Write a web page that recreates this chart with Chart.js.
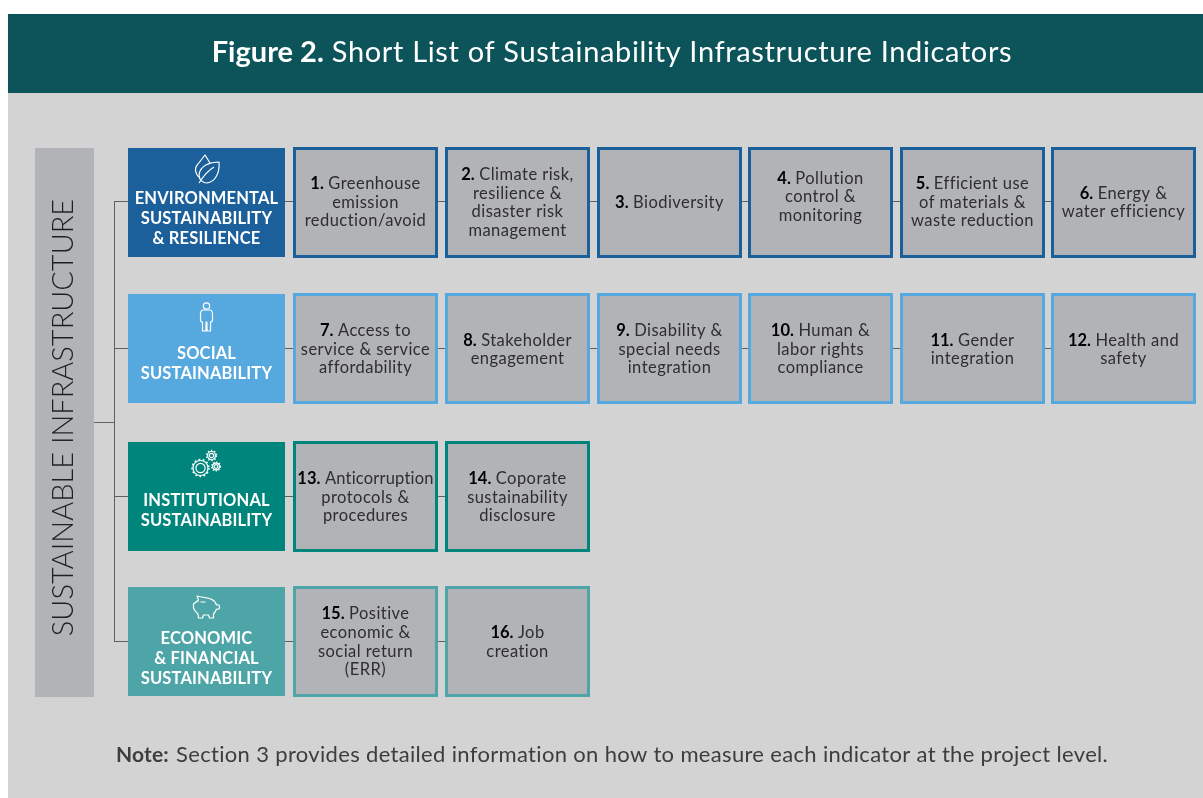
<!DOCTYPE html>
<html><head><meta charset="utf-8">
<style>html,body{margin:0;padding:0;background:#fff;overflow:hidden}canvas{display:block}</style>
<script src="https://cdn.jsdelivr.net/npm/chart.js@4"></script>
</head><body><canvas id="c" width="1203" height="798"></canvas>
<script>
/* ---- content ---- */
const titleBold = 'Figure 2.';
const titleRest = 'Short List of Sustainability Infrastructure Indicators';
const rootLabel = 'SUSTAINABLE INFRASTRUCTURE';
const noteBold = 'Note:';
const noteRest = 'Section 3 provides detailed information on how to measure each indicator at the project level.';
const categoryNames = [
  ['ENVIRONMENTAL','SUSTAINABILITY','& RESILIENCE'],
  ['SOCIAL','SUSTAINABILITY'],
  ['INSTITUTIONAL','SUSTAINABILITY'],
  ['ECONOMIC','& FINANCIAL','SUSTAINABILITY']
];
const environmentalIndicators = [
  ['1.','Greenhouse','emission','reduction/avoid'],
  ['2.','Climate risk,','resilience &','disaster risk','management'],
  ['3.','Biodiversity'],
  ['4.','Pollution','control &','monitoring'],
  ['5.','Efficient use','of materials &','waste reduction'],
  ['6.','Energy &','water efficiency']
];
const socialIndicators = [
  ['7.','Access to','service & service','affordability'],
  ['8.','Stakeholder','engagement'],
  ['9.','Disability &','special needs','integration'],
  ['10.','Human &','labor rights','compliance'],
  ['11.','Gender','integration'],
  ['12.','Health and','safety']
];
const institutionalIndicators = [
  ['13.','Anticorruption','protocols &','procedures'],
  ['14.','Coporate','sustainability','disclosure']
];
const economicIndicators = [
  ['15.','Positive','economic &','social return','(ERR)'],
  ['16.','Job','creation']
];
const indicatorRows = [environmentalIndicators, socialIndicators, institutionalIndicators, economicIndicators];

/* ---- layout and style (kept apart from the content) ---- */
const rowCentres = [202.5, 348.5, 496.5, 641.5];
const connectorRows = [201.5, 348.5, 496.5, 641.5];
const colStarts = [293, 445, 597, 748, 900, 1051];
const colWidth = 145;
const categorySpan = [128, 285];
const rootSpan = [35, 94];
const trunkX = 114.5;
const rowColours = ['#1b5f9b', '#55a9df', '#00857c', '#4ea5a8'];
const boxFill = '#b2b3b6';
const FONT = 'Lato, sans-serif';

const barBase = {type:'bar', indexAxis:'y', grouped:false, barPercentage:1, categoryPercentage:1,
  borderSkipped:false, inflateAmount:0};

const panelDatasets = [
  {...barBase, order:30, barThickness:705, backgroundColor:'#d3d3d3', data:[{x:[8,1203], y:445.5}]},
  {...barBase, order:29, barThickness:79, backgroundColor:'#0c5459', data:[{x:[8,1203], y:53.5}]},
  {...barBase, order:5, barThickness:549, backgroundColor:boxFill, data:[{x:rootSpan, y:422.5}]},
];
const connectorStyle = {type:'line', order:10, borderColor:'#5f5f5f', borderWidth:1, pointRadius:0, fill:false, tension:0};
const connectorDatasets = [
  {...connectorStyle, data:[{x:94,y:422.5},{x:trunkX,y:422.5}]},
  {...connectorStyle, data:[{x:trunkX,y:connectorRows[0]},{x:trunkX,y:connectorRows[3]}]},
  ...connectorRows.map((y,i)=>({...connectorStyle, data:[{x:trunkX,y},{x:colStarts[indicatorRows[i].length-1]+colWidth,y}]}))
];
const categoryDataset = {...barBase, order:2, barThickness:109, backgroundColor:rowColours,
  data:rowCentres.map(y=>({x:categorySpan,y}))};
const indicatorDatasets = indicatorRows.map((row,r)=>({...barBase, order:3, barThickness:111,
  backgroundColor:boxFill, borderColor:rowColours[r], borderWidth:3,
  data:row.map((_,c)=>({x:[colStarts[c],colStarts[c]+colWidth], y:rowCentres[r]}))}));

function setFont(ctx, weight, size, spacing){
  ctx.font = `${weight} ${size}px ${FONT}`;
  ctx.letterSpacing = (spacing||0)+'px';
}
function mixedLine(ctx, bold, rest, cx, y, size, boldColour, colour, boldSpacing, spacing, gap){
  setFont(ctx, 700, size, boldSpacing);
  const bw = ctx.measureText(bold).width + gap;
  setFont(ctx, 400, size, spacing);
  const rw = ctx.measureText(rest).width;
  const x = cx-(bw+rw)/2;
  ctx.textAlign='left';
  setFont(ctx, 700, size, boldSpacing); ctx.fillStyle=boldColour; ctx.fillText(bold, x, y);
  setFont(ctx, 400, size, spacing); ctx.fillStyle=colour; ctx.fillText(rest, x+bw, y);
}
function gear(ctx,x,y,r,inner,dash){
  ctx.beginPath(); ctx.arc(x,y,inner,0,7); ctx.stroke();
  ctx.beginPath(); ctx.arc(x,y,r-1,0,7); ctx.stroke();
  ctx.save(); ctx.lineWidth=1.4; ctx.setLineDash(dash); ctx.beginPath(); ctx.arc(x,y,r,0,7); ctx.stroke(); ctx.restore();
}
const icons = [
  (ctx)=>{ // leaves
    ctx.beginPath(); ctx.moveTo(13,-7); ctx.bezierCurveTo(5,-7,-6,-4,-7,6); ctx.bezierCurveTo(-7,11,-3,14,1,14);
    ctx.bezierCurveTo(9,13,14,4,13,-7); ctx.closePath(); ctx.stroke();
    ctx.beginPath(); ctx.moveTo(-7,14); ctx.bezierCurveTo(-2,6,3,1,8,-2); ctx.stroke();
    ctx.beginPath(); ctx.moveTo(-6,9); ctx.bezierCurveTo(-11,5,-12,-1,-8,-5); ctx.lineTo(-1,-14); ctx.lineTo(4,-6); ctx.stroke();
  },
  (ctx)=>{ // person
    ctx.beginPath(); ctx.arc(0,-11,3.2,0,7); ctx.stroke();
    ctx.beginPath(); ctx.moveTo(-3,-7); ctx.lineTo(3,-7); ctx.quadraticCurveTo(6,-7,6,-3); ctx.lineTo(6,3); ctx.quadraticCurveTo(6,5,4,5);
    ctx.lineTo(4,14); ctx.lineTo(0.6,14); ctx.lineTo(0.4,5); ctx.lineTo(-0.4,5); ctx.lineTo(-0.6,14); ctx.lineTo(-4,14); ctx.lineTo(-4,5);
    ctx.quadraticCurveTo(-6,5,-6,3); ctx.lineTo(-6,-3); ctx.quadraticCurveTo(-6,-7,-3,-7); ctx.closePath(); ctx.stroke();
  },
  (ctx)=>{ // gears
    gear(ctx,-5.5,3,8.5,4.6,[1.8,2.4]);
    gear(ctx,5.5,-9.5,5,2.2,[1.4,1.8]);
    gear(ctx,10,1.5,4.4,1.8,[1.3,1.6]);
  },
  (ctx)=>{ // piggy bank
    ctx.beginPath(); ctx.moveTo(-8,-8); ctx.lineTo(-9.5,-12); ctx.lineTo(-5,-11); ctx.bezierCurveTo(0,-10,8,-10,10,-3);
    ctx.quadraticCurveTo(13,-4,13,-1); ctx.quadraticCurveTo(13,2,10,1); ctx.quadraticCurveTo(9,4,7,6); ctx.lineTo(7,10); ctx.lineTo(3,10); ctx.lineTo(2,7);
    ctx.lineTo(-3,7); ctx.lineTo(-4,10); ctx.lineTo(-8,10); ctx.lineTo(-8.5,6); ctx.quadraticCurveTo(-12,3,-13,0); ctx.lineTo(-13,-4); ctx.closePath(); ctx.stroke();
    ctx.beginPath(); ctx.moveTo(-6,-6); ctx.lineTo(-1,-6); ctx.moveTo(-9,-6); ctx.lineTo(-8,-6); ctx.stroke();
  }
];
const iconCentres = [[206,169],[206.5,317],[206,465],[206.5,608]];
const categoryLineY = [[199,219,239],[354,374],[501,521],[639,659,679]];
const indicatorOffset = {'0-3':-5.5};
const firstLineSpacing = {'2-0':0.2};

const textPlugin = {id:'diagramText', afterDatasetsDraw(chart){
  const ctx=chart.ctx, X=chart.scales.x, Y=chart.scales.y;
  const px=v=>X.getPixelForValue(v), py=v=>Y.getPixelForValue(v);
  ctx.save(); ctx.textBaseline='middle';
  // title
  mixedLine(ctx,titleBold,titleRest,px(612),py(53),29,'#ffffff','#ffffff',0,0.65,8);
  // root label
  ctx.save(); ctx.translate(px(64),py(417.5)); ctx.rotate(-Math.PI/2);
  ctx.textAlign='center'; setFont(ctx,300,29,0); ctx.fillStyle='#1f1f1f'; ctx.fillText(rootLabel,0,0); ctx.restore();
  // categories
  categoryNames.forEach((lines,r)=>{
    ctx.textAlign='center'; ctx.fillStyle='#ffffff'; setFont(ctx,700,16.5,0.15);
    lines.forEach((t,i)=>ctx.fillText(t,px(206.5),py(categoryLineY[r][i])));
    ctx.save(); ctx.translate(px(iconCentres[r][0]),py(iconCentres[r][1]));
    ctx.strokeStyle='#ffffff'; ctx.lineWidth=1.2; ctx.lineJoin='round'; icons[r](ctx); ctx.restore();
  });
  // indicators
  indicatorRows.forEach((row,r)=>row.forEach((item,c)=>{
    const [num,...lines]=item, lh=18.6, cx=colStarts[c]+colWidth/2;
    const cy=rowCentres[r]+1-(r===0?1:0)+(indicatorOffset[r+'-'+c]||0)-(r===3?0.5:0);
    const top=cy-lh*(lines.length-1)/2;
    lines.forEach((t,i)=>{
      const y=top+lh*i;
      if(i===0) mixedLine(ctx,num,t,px(cx),py(y),16.5,'#000000','#2e2e2e',0,firstLineSpacing[r+'-'+c]??0.45,4.5);
      else { ctx.textAlign='center'; setFont(ctx,400,16.5,0.45); ctx.fillStyle='#2e2e2e'; ctx.fillText(t,px(cx),py(y)); }
    });
  }));
  // note
  ctx.textAlign='left';
  setFont(ctx,700,21,0.15); ctx.fillStyle='#3d3d3d'; ctx.fillText(noteBold,px(116),py(755));
  setFont(ctx,400,22,0.33); ctx.fillText(noteRest,px(176),py(755));
  ctx.restore();
}};

new Chart(document.getElementById('c'),{
  data:{datasets:[...panelDatasets,...connectorDatasets,categoryDataset,...indicatorDatasets]},
  options:{responsive:false,animation:false,events:[],
    layout:{padding:0},
    plugins:{legend:{display:false},tooltip:{enabled:false},title:{display:false}},
    scales:{
      x:{type:'linear',display:false,min:0,max:1203,offset:false},
      y:{type:'linear',display:false,min:0,max:798,reverse:true,offset:false}
    }},
  plugins:[textPlugin]
});
</script></body></html>
